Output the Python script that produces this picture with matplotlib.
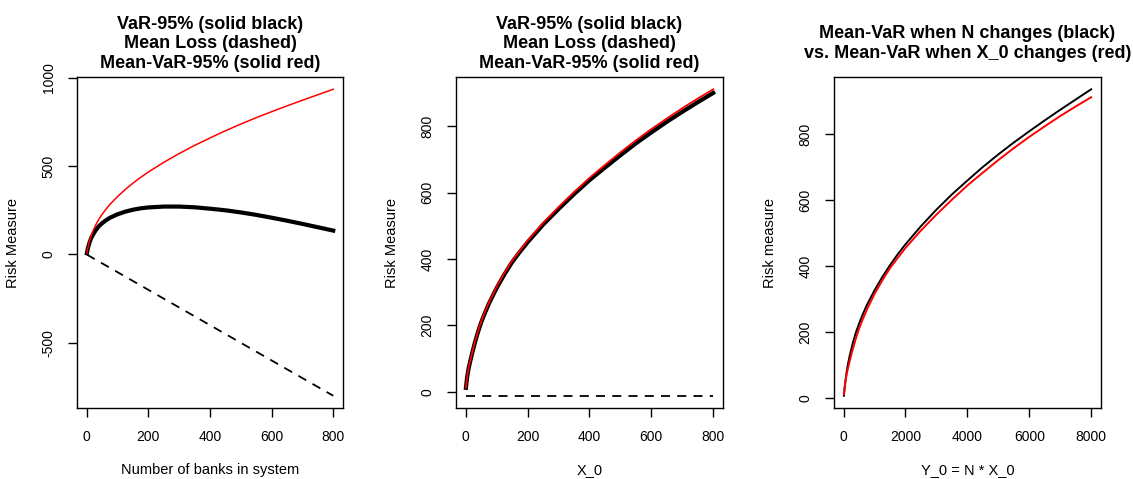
import matplotlib
matplotlib.use("Agg")
import matplotlib.pyplot as plt

# Simulation summary: VaR-95%, mean loss and Mean-VaR-95%
# first while the number of banks N grows (X_0 = 10),
# then while the exposure X_0 grows (N = 10).

X0_FIXED = 10
N_FIXED = 10

# --- number of banks varies ---
n_banks = [1, 2, 3, 5, 10, 15, 20, 30, 40, 50, 60, 75, 100, 125, 150, 175,
           200, 250, 300, 350, 400, 450, 500, 550, 600, 650, 700, 750, 800]
var_n = [7, 16, 25, 40, 70, 93, 110, 138, 160, 176, 190, 207, 227, 242, 253, 261,
         266, 271, 271, 267, 259, 250, 238, 224, 208, 191, 173, 154, 135]
loss_n = [-1, -2, -3, -5, -10, -15, -20, -30, -40, -50, -60, -75, -100, -125,
          -150, -175, -200, -250, -300, -350, -400, -450, -500, -550, -600,
          -650, -700, -750, -800]
mvar_n = [8, 18, 28, 45, 80, 108, 130, 168, 200, 226, 250, 282, 327, 367, 403, 436,
          466, 521, 571, 617, 659, 700, 738, 774, 808, 841, 873, 904, 935]

# --- exposure X_0 varies ---
x0_values = [1, 2, 3, 5, 10, 20, 30, 40, 50, 60, 75, 100, 125, 150, 175,
             200, 250, 300, 350, 400, 450, 500, 550, 600, 650, 700, 750, 800]
var_x0 = [12, 20, 28, 45, 72, 112, 148, 180, 208, 232, 265, 312, 353, 390, 421,
          450, 503, 550, 595, 637, 675, 712, 748, 781, 813, 843, 872, 900]
loss_x0 = [-12, -12, -12, -12, -12, -12, -12, -12, -12, -12, -12, -12, -12, -12,
           -12, -12, -12, -12, -12, -12, -12, -12, -12, -12, -12, -12, -12, -12]
mvar_x0 = [13, 21, 29, 46, 74, 114, 150, 182, 211, 235, 268, 316, 357, 394, 425,
           455, 508, 556, 601, 644, 683, 721, 757, 791, 823, 854, 883, 911]

# total system exposure Y_0 = N * X_0
y0_from_n = [n * X0_FIXED for n in n_banks]
y0_from_x0 = [x * N_FIXED for x in x0_values]

plt.rcParams["font.family"] = ["Liberation Sans", "DejaVu Sans"]
plt.rcParams["axes.unicode_minus"] = False

TITLE_SIZE = 13
TICK_SIZE = 10
LABEL_SIZE = 10.5
DASH = (0, (5, 4))


def style_axes(ax, xticks, yticks, xlabel, ylabel, title, title_pad):
    ax.margins(x=0.04, y=0.04)
    ax.set_xticks(xticks)
    ax.set_yticks(yticks)
    ax.tick_params(direction="out", length=6.5, width=1.0,
                   labelsize=TICK_SIZE, pad=9)
    for lab in ax.get_yticklabels():
        lab.set_rotation(90)
        lab.set_verticalalignment("center")
    for sp in ax.spines.values():
        sp.set_linewidth(1.0)
    ax.set_xlabel(xlabel, fontsize=LABEL_SIZE)
    ax.set_ylabel(ylabel, fontsize=LABEL_SIZE)
    ax.xaxis.set_label_coords(0.5, -0.165)
    ax.yaxis.set_label_coords(-0.215, 0.5)
    ax.set_title(title, fontsize=TITLE_SIZE, fontweight="bold",
                 linespacing=1.2, pad=title_pad)


fig = plt.figure(figsize=(11.33, 4.79), dpi=100)
ax1 = fig.add_axes([0.068, 0.1482, 0.2348, 0.691])
ax2 = fig.add_axes([0.4025, 0.1482, 0.2357, 0.691])
ax3 = fig.add_axes([0.7361, 0.1482, 0.2357, 0.691])

three_line_title = ("VaR-95% (solid black)\nMean Loss (dashed)\n"
                    "Mean-VaR-95% (solid red)")

# Panel 1: N changes
ax1.plot(n_banks, var_n, color="black", lw=3.0)
ax1.plot(n_banks, loss_n, color="black", lw=1.3, linestyle=DASH)
ax1.plot(n_banks, mvar_n, color="red", lw=1.1)
style_axes(ax1, [0, 200, 400, 600, 800], [-500, 0, 500, 1000],
           "Number of banks in system", "Risk Measure",
           three_line_title, 6.5)

# Panel 2: X_0 changes
ax2.plot(x0_values, var_x0, color="black", lw=3.0)
ax2.plot(x0_values, loss_x0, color="black", lw=1.3, linestyle=DASH)
ax2.plot(x0_values, mvar_x0, color="red", lw=1.3)
style_axes(ax2, [0, 200, 400, 600, 800], [0, 200, 400, 600, 800],
           "X_0", "Risk Measure", three_line_title, 6.5)

# Panel 3: both Mean-VaR curves against total exposure
ax3.plot(y0_from_n, mvar_n, color="black", lw=1.4)
ax3.plot(y0_from_x0, mvar_x0, color="red", lw=1.4)
style_axes(ax3, [0, 2000, 4000, 6000, 8000], [0, 200, 400, 600, 800],
           "Y_0 = N * X_0", "Risk measure",
           "Mean-VaR when N changes (black)\n"
           "vs. Mean-VaR when X_0 changes (red)", 14)

fig.savefig("out.png", dpi=100)
